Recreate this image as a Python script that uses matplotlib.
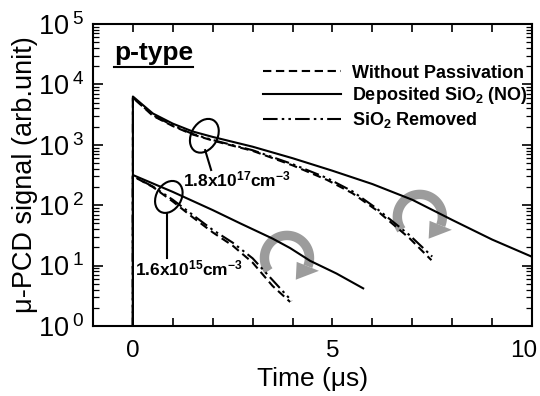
import numpy as np
import matplotlib
matplotlib.use("Agg")
from matplotlib import pyplot as plt
from matplotlib.patches import Ellipse, Polygon
from matplotlib.lines import Line2D
from matplotlib.transforms import ScaledTranslation
from matplotlib.ticker import FixedLocator, FuncFormatter, LogLocator, NullFormatter

plt.rcParams['font.family'] = ['Liberation Sans', 'DejaVu Sans']
plt.rcParams['mathtext.fontset'] = 'custom'
plt.rcParams['mathtext.rm'] = 'Liberation Sans'
plt.rcParams['mathtext.bf'] = 'Liberation Sans:bold'
plt.rcParams['mathtext.it'] = 'Liberation Sans:italic'

# --- data (time in us, signal in arb. unit) ---
# N = 1.8e17 cm-3
t_hi_dep = [0, 0, 0.5, 1.0, 1.5, 2.0, 3.0, 4.0, 5.0, 6.0, 7.0, 8.0, 9.0, 10.0]
v_hi_dep = [1, 6300, 3300, 2240, 1660, 1350, 930, 600, 372, 224, 123, 57, 27, 14]
t_hi_wo = [0, 0, 0.5, 1.0, 1.5, 2.0, 3.0, 4.0, 4.86, 5.5, 6.1, 6.94, 7.48]
v_hi_wo = [1, 6030, 3020, 2040, 1480, 1175, 794, 457, 263, 158, 83, 28, 12.3]
t_hi_rem = [0, 0, 0.5, 1.0, 1.5, 2.0, 3.0, 4.0, 4.86, 5.5, 6.1, 6.94, 7.5]
v_hi_rem = [1, 6030, 3090, 2090, 1510, 1200, 813, 479, 282, 170, 89, 31.6, 14.1]
# N = 1.6e15 cm-3
t_lo_dep = [0, 0, 0.5, 1.0, 2.0, 2.69, 3.5, 3.94, 4.44, 5.1, 5.77]
v_lo_dep = [1, 316, 229, 166, 83, 50, 28, 19.5, 12, 7.4, 4.2]
t_lo_wo = [0, 0, 0.5, 1.0, 1.5, 2.0, 2.5, 3.0, 3.5, 3.94]
v_lo_wo = [1, 302, 200, 115, 63, 35.5, 21.4, 11.2, 4.6, 2.5]
t_lo_rem = [0, 0, 0.5, 1.0, 1.5, 2.0, 2.5, 3.0, 3.5, 3.98]
v_lo_rem = [1, 302, 204, 123, 69, 39, 24, 13.2, 5.75, 2.6]

labels = ['Without Passivation', r'Deposited SiO$_\mathbf{2}$ (NO)', r'SiO$_\mathbf{2}$ Removed']

fig = plt.figure(figsize=(5.4, 3.96), dpi=100)
ax = fig.add_axes([93/540, 70/396, 439/540, 302/396])

dash = (4, 2.2)
dashdot = (7, 2, 1.2, 2, 1.2, 2)
l_wo, = ax.plot(t_hi_wo, v_hi_wo, color='k', lw=1.5, dashes=dash, zorder=3)
l_rem, = ax.plot(t_hi_rem, v_hi_rem, color='k', lw=1.5, dashes=dashdot, zorder=3)
l_dep, = ax.plot(t_hi_dep, v_hi_dep, color='k', lw=1.5, zorder=3)
ax.plot(t_lo_wo, v_lo_wo, color='k', lw=1.5, dashes=dash, zorder=3)
ax.plot(t_lo_rem, v_lo_rem, color='k', lw=1.5, dashes=dashdot, zorder=3)
ax.plot(t_lo_dep, v_lo_dep, color='k', lw=1.5, zorder=3)

ax.set_yscale('log')
ax.set_xlim(-1, 10)
ax.set_ylim(1, 1e5)

ax.set_xticks([0, 5, 10])
ax.xaxis.set_minor_locator(FixedLocator([1, 2, 3, 4, 6, 7, 8, 9]))
ax.yaxis.set_major_locator(FixedLocator([1, 10, 100, 1e3, 1e4, 1e5]))
ax.yaxis.set_major_formatter(FuncFormatter(lambda v, p: r'$10^{\;%d}$' % round(np.log10(v))))
ax.yaxis.set_minor_locator(LogLocator(base=10, subs=np.arange(2, 10), numticks=20))
ax.yaxis.set_minor_formatter(NullFormatter())
ax.tick_params(which='both', direction='in', top=True, right=True)
ax.tick_params(axis='x', which='both', length=6, width=1.2, pad=10, labelsize=17.5)
ax.tick_params(axis='y', which='major', length=7, width=1.2, pad=6, labelsize=19.5)
ax.tick_params(axis='y', which='minor', length=4, width=0.9)
for s in ax.spines.values():
    s.set_linewidth(1.5)

ax.set_xlabel('Time (μs)', fontsize=19, labelpad=4)
ax.set_ylabel('μ-PCD signal (arb.unit)', fontsize=19.5, labelpad=0)

ax.legend([l_wo, l_dep, l_rem], labels, loc='upper right', bbox_to_anchor=(1.0, 0.88),
          frameon=False, prop={'weight': 'bold', 'size': 13}, handlelength=4.3,
          handletextpad=0.6, labelspacing=0.2, borderpad=0, borderaxespad=0.25)

# p-type label with underline
pt = ax.text(-0.47, 25000, 'p-type', fontsize=19, fontweight='bold', va='baseline')

# concentration notes
ax.text(1.26, 262, r'1.8x10$^{\mathbf{17}}$cm$^{\mathbf{-3}}$', fontsize=12.5,
        fontweight='bold', va='center')
ax.text(0.06, 9.1, r'1.6x10$^{\mathbf{15}}$cm$^{\mathbf{-3}}$', fontsize=12.5,
        fontweight='bold', va='center')


def place(x, y):
    # inch-based transform anchored on a data point
    return fig.dpi_scale_trans + ScaledTranslation(x, y, ax.transData)


def ring(x, y, w, h, ang):
    ax.add_patch(Ellipse((0, 0), w / 100, h / 100, angle=ang, transform=place(x, y),
                         fill=False, lw=1.5, ec='k', zorder=5))


ring(1.79, 1410, 36, 26, 60)
ring(0.9, 137, 34, 25, 60)
ax.plot([1.81, 1.96], [815, 383], color='k', lw=1.5, zorder=5)
ax.plot([0.86, 0.86], [74, 13.4], color='k', lw=1.5, zorder=5)


# gray clockwise hook arrows around a centre point
def hook(x, y, r=0.225, gray='#9c9c9c'):
    tr = place(x, y)
    th = np.radians(np.linspace(215, -22, 80))
    ax.add_line(Line2D(r * np.cos(th), r * np.sin(th), transform=tr, lw=6.8,
                       color=gray, solid_capstyle='butt', zorder=1))
    b = np.array([r * np.cos(th[-1]), r * np.sin(th[-1])])
    n = np.array([np.cos(th[-1]), np.sin(th[-1])])
    d = np.array([np.cos(np.radians(228)), np.sin(np.radians(228))])
    head = [b + 0.12 * n, b + 0.18 * d, b - 0.12 * n]
    ax.add_patch(Polygon(head, closed=True, transform=tr, fc=gray, ec='none', zorder=1))


hook(7.19, 64)
hook(3.86, 13.4)

fig.canvas.draw()
bb = pt.get_window_extent().transformed(ax.transAxes.inverted())
ax.plot([bb.x0, bb.x1], [bb.y0 - 0.005, bb.y0 - 0.005], transform=ax.transAxes,
        color='k', lw=1.5, clip_on=False)
# the last x label sits a little left of its tick in the reference
last = ax.get_xticklabels()[-1]
last.set_transform(last.get_transform() + ScaledTranslation(-0.08, 0, fig.dpi_scale_trans))

fig.savefig('out.png', dpi=100)
